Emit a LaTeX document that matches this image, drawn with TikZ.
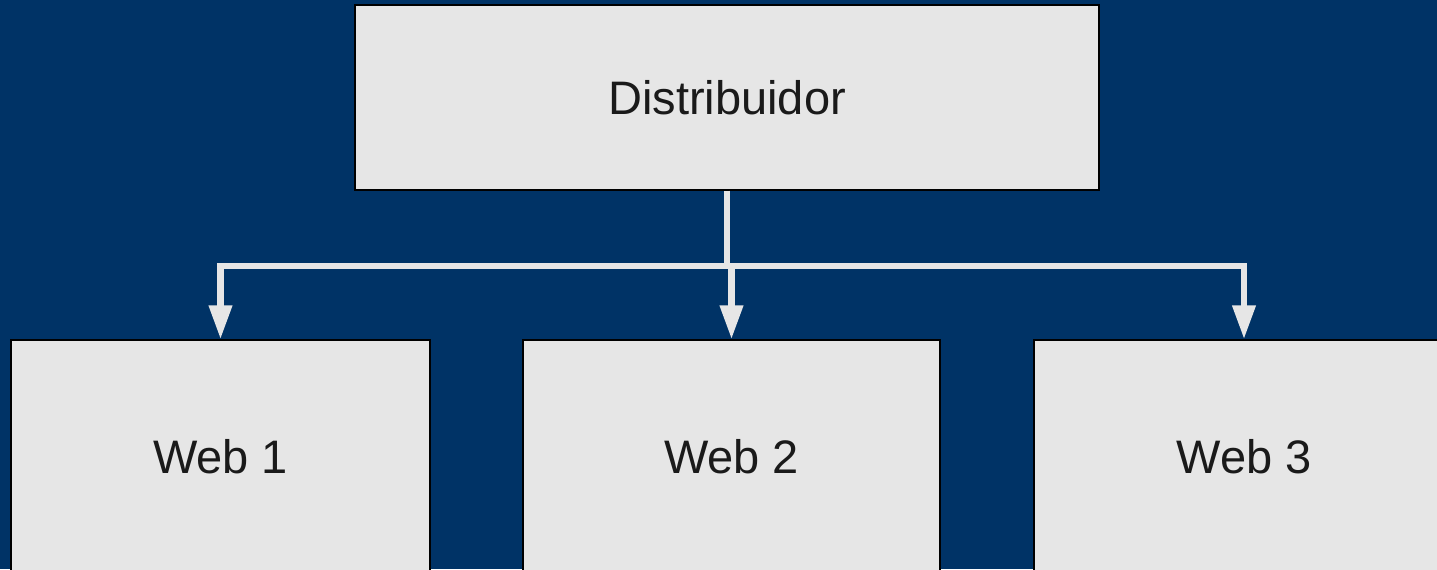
\documentclass[tikz,border=0pt]{standalone}
\usepackage{fontspec}
\setmainfont{Liberation Sans}
\usetikzlibrary{arrows.meta}
\definecolor{bg}{RGB}{0,51,102}
\definecolor{boxfill}{RGB}{230,230,230}
\definecolor{txt}{RGB}{26,26,26}
\tikzset{
  box/.style={draw=black, line width=0.6pt, fill=boxfill, text=txt, inner sep=0pt,
    font=\fontsize{23.5pt}{28pt}\selectfont},
  link/.style={draw=boxfill, line width=3.4pt},
  arr/.style={link, -{Triangle[width=11pt,length=17pt]}},
}
\begin{document}
\begin{tikzpicture}[x=0.5pt,y=-0.5pt]
\useasboundingbox (0,0) rectangle (1437,569);
\clip (0,0) rectangle (1437,569);
\fill[bg] (0,0) rectangle (1437,569);
\node[box, minimum width=372pt, minimum height=92.5pt] (dist) at (727,97.5) {Distribuidor};
\node[box, minimum width=209.5pt, minimum height=117pt] (w1) at (220.5,457) {Web 1};
\node[box, minimum width=208.5pt, minimum height=117pt] (w2) at (731.5,457) {Web 2};
\node[box, minimum width=210pt, minimum height=117pt] (w3) at (1244,457) {Web 3};
\coordinate (bus) at (727,266);
\draw[link] (dist.south) -- (bus);
\draw[arr] (bus) -| (w1.north);
\draw[arr] (bus) -| (w2.north);
\draw[arr] (bus) -| (w3.north);
\end{tikzpicture}
\end{document}
